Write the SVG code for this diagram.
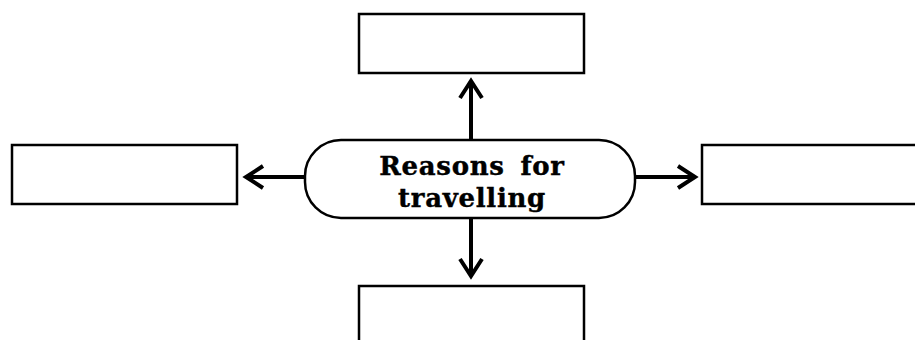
<svg xmlns="http://www.w3.org/2000/svg" width="915" height="340" viewBox="0 0 915 340">
  <defs>
    <style>
      .box { fill: #ffffff; stroke: #000000; stroke-width: 2.5; }
      .pill { fill: #ffffff; stroke: #000000; stroke-width: 2.5; }
      .conn { fill: none; stroke: #000000; stroke-width: 4; }
      .head { fill: none; stroke: #000000; stroke-width: 4; stroke-linecap: butt; stroke-linejoin: miter; }
      .label { font-family: "DejaVu Serif", "Liberation Serif", serif; font-weight: bold; font-size: 26px; fill: #000000; stroke: #000000; stroke-width: 0.4; text-anchor: middle; word-spacing: 6px; letter-spacing: 0.7px; }
    </style>
  </defs>
  <rect width="915" height="340" fill="#ffffff"/>
  <g id="connectors">
    <line class="conn" x1="471" y1="139" x2="471" y2="81"/>
    <polyline class="head" points="460,98 471,81 482,98"/>
    <line class="conn" x1="471" y1="218" x2="471" y2="276"/>
    <polyline class="head" points="460,259 471,276 482,259"/>
    <line class="conn" x1="304" y1="177" x2="246" y2="177"/>
    <polyline class="head" points="263,166 246,177 263,188"/>
    <line class="conn" x1="636" y1="177" x2="695" y2="177"/>
    <polyline class="head" points="678,166 695,177 678,188"/>
  </g>
  <g id="node-top">
    <rect class="box" x="359" y="14" width="225" height="59"/>
  </g>
  <g id="node-left">
    <rect class="box" x="12" y="145" width="225" height="59"/>
  </g>
  <g id="node-right">
    <rect class="box" x="702" y="145" width="225" height="59"/>
  </g>
  <g id="node-bottom">
    <rect class="box" x="359" y="286" width="225" height="70"/>
  </g>
  <g id="node-center">
    <rect class="pill" x="305" y="140" width="330" height="78" rx="36" ry="36"/>
    <text class="label" x="472" y="175">Reasons for</text>
    <text class="label" x="472" y="207">travelling</text>
  </g>
</svg>
